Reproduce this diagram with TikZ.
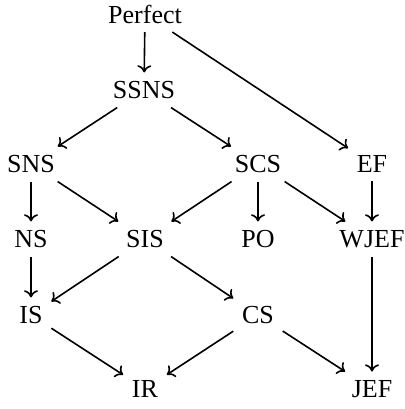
\documentclass[tikz,border=0pt]{standalone}
\usepackage{fontspec}
\setmainfont{Liberation Serif}
\usetikzlibrary{arrows.meta}
\begin{document}
\begin{tikzpicture}[x=0.5pt,y=-0.5pt,
  lbl/.style={inner sep=4.2pt,font=\fontsize{13}{15}\selectfont},
  arr/.style={draw,line width=0.8pt,-{To[length=3.6pt,width=7pt]}}]
\useasboundingbox (0,0) rectangle (404,409);
\node[lbl] (perfect) at (145,14) {Perfect};
\node[lbl] (ssns) at (144,90) {SSNS};
\node[lbl] (sns) at (31,164) {SNS};
\node[lbl] (scs) at (258,164) {SCS};
\node[lbl] (ef) at (372,164) {EF};
\node[lbl] (ns) at (31,239) {NS};
\node[lbl] (sis) at (145,239) {SIS};
\node[lbl] (po) at (258,239) {PO};
\node[lbl] (wjef) at (372,239) {WJEF};
\node[lbl] (is) at (31,315) {IS};
\node[lbl] (cs) at (258,315) {CS};
\node[lbl] (ir) at (145,389) {IR};
\node[lbl] (jef) at (372,389) {JEF};
\draw[arr] (perfect) -- (ssns);
\draw[arr] (perfect) -- (ef);
\draw[arr] (ssns) -- (sns);
\draw[arr] (ssns) -- (scs);
\draw[arr] (sns) -- (ns);
\draw[arr] (sns) -- (sis);
\draw[arr] (scs) -- (sis);
\draw[arr] (scs) -- (po);
\draw[arr] (scs) -- (wjef);
\draw[arr] (ef) -- (wjef);
\draw[arr] (ns) -- (is);
\draw[arr] (sis) -- (is);
\draw[arr] (sis) -- (cs);
\draw[arr] (wjef) -- (jef);
\draw[arr] (is) -- (ir);
\draw[arr] (cs) -- (ir);
\draw[arr] (cs) -- (jef);
\end{tikzpicture}
\end{document}
